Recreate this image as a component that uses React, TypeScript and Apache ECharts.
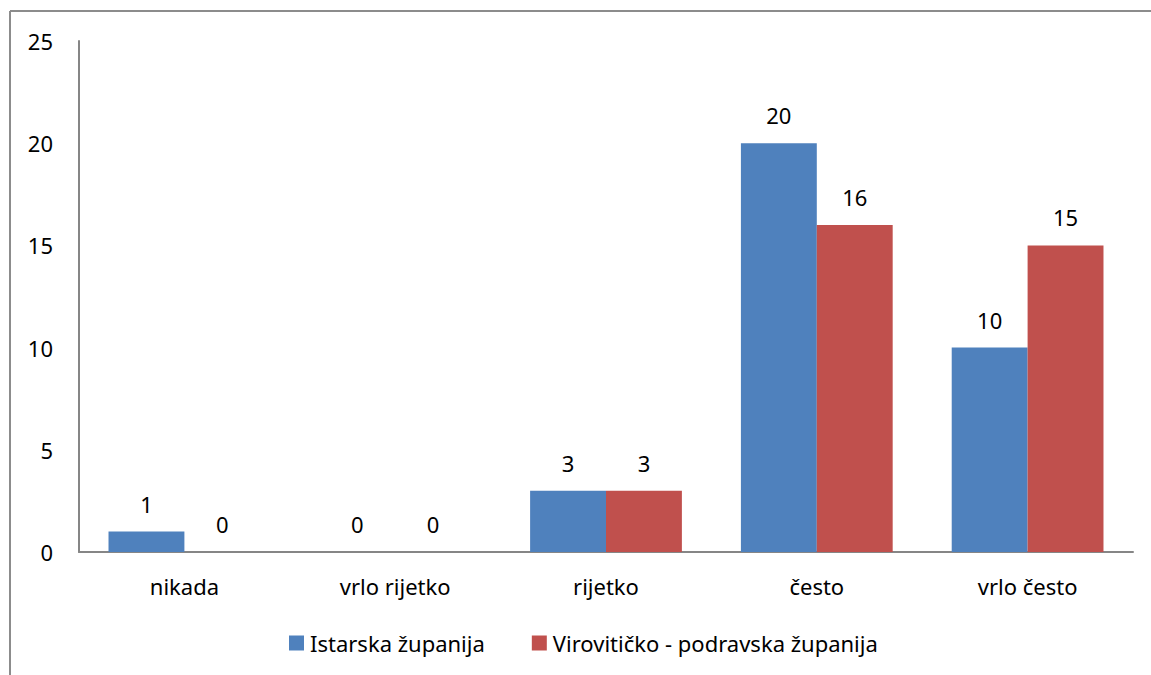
import React, { useEffect, useRef } from "react";
import * as echarts from "echarts";

const categories = ["nikada", "vrlo rijetko", "rijetko", "često", "vrlo često"];
const istarska = [1, 0, 3, 20, 10];
const virovitička = [0, 0, 3, 16, 15];
const seriesNames = ["Istarska županija", "Virovitičko - podravska županija"];

const FONT = "Noto Sans";
const FS = 22;

export default function App() {
  const ref = useRef<HTMLDivElement>(null);
  useEffect(() => {
    document.body.style.margin = "0";
    const chart = echarts.init(ref.current!, null, { renderer: "svg" });
    const label = {
      show: true,
      position: "top",
      distance: 17,
      color: "#000",
      fontFamily: FONT,
      fontSize: FS,
    };
    chart.setOption({
      animation: false,
      backgroundColor: "#fff",
      textStyle: { fontFamily: FONT },
      grid: { left: 79, right: 18, top: 41, bottom: 123, containLabel: false },
      graphic: [
        { type: "line", shape: { x1: 10, y1: 11, x2: 1151, y2: 11 }, style: { stroke: "#8c8c8c", lineWidth: 2 } },
        { type: "line", shape: { x1: 10, y1: 11, x2: 10, y2: 675 }, style: { stroke: "#8c8c8c", lineWidth: 2 } },
      ],
      legend: {
        left: 284,
        top: 627,
        itemWidth: 15,
        itemHeight: 15,
        itemGap: 47,
        icon: "rect",
        textStyle: { fontFamily: FONT, fontSize: FS, color: "#000", padding: [0, 0, 0, 1] },
        data: seriesNames,
      },
      xAxis: {
        type: "category",
        data: categories,
        axisLine: { lineStyle: { color: "#868686", width: 2 } },
        axisTick: { show: false },
        axisLabel: { color: "#000", fontFamily: FONT, fontSize: FS, margin: 23 },
      },
      yAxis: {
        type: "value",
        min: 0,
        max: 25,
        interval: 5,
        axisLine: { show: true, lineStyle: { color: "#868686", width: 2 } },
        axisTick: { show: false },
        splitLine: { show: false },
        axisLabel: { color: "#000", fontFamily: FONT, fontSize: FS, margin: 26 },
      },
      series: [
        {
          name: seriesNames[0],
          type: "bar",
          data: istarska,
          itemStyle: { color: "#4F81BD" },
          barGap: "0%",
          barCategoryGap: "28%",
          label,
        },
        {
          name: seriesNames[1],
          type: "bar",
          data: virovitička,
          itemStyle: { color: "#C0504D" },
          label,
        },
      ],
    });
    return () => chart.dispose();
  }, []);
  return <div ref={ref} style={{ width: 1151, height: 675 }} />;
}
